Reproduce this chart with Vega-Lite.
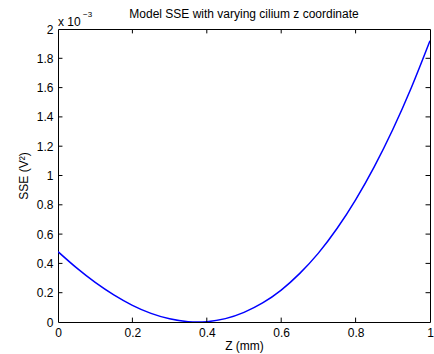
{
  "$schema": "https://vega.github.io/schema/vega-lite/v6.json",
  "width": 372,
  "height": 293,
  "autosize": {"type": "none"},
  "padding": {"left": 58, "top": 29, "right": 4, "bottom": 32},
  "background": "white",
  "config": {
    "view": {"stroke": "black", "strokeWidth": 1},
    "font": "Liberation Sans",
    "axis": {
      "domain": false,
      "labelColor": "black",
      "titleColor": "black",
      "labelFont": "Liberation Sans",
      "titleFont": "Liberation Sans",
      "labelFontSize": 12,
      "titleFontSize": 12,
      "titleFontWeight": "normal",
      "grid": false,
      "format": "~g",
      "labelFlush": false,
      "labelOverlap": false
    }
  },
  "title": {
    "text": "Model SSE with varying cilium z coordinate",
    "font": "Liberation Sans",
    "fontSize": 12,
    "fontWeight": "normal",
    "color": "black",
    "offset": 4,
    "dy": 14,
    "anchor": "middle",
    "frame": "group"
  },
  "resolve": {"axis": {"x": "independent", "y": "independent"}},
  "datasets": {
    "xt": [{"t": 0.2}, {"t": 0.4}, {"t": 0.6}, {"t": 0.8}],
    "yt": [{"t": 0.2}, {"t": 0.4}, {"t": 0.6}, {"t": 0.8}, {"t": 1.0}, {"t": 1.2}, {"t": 1.4}, {"t": 1.6}, {"t": 1.8}]
  },
  "data": {
    "values": [
      {"z": 0.0, "sse": 0.48},
      {"z": 0.05, "sse": 0.369},
      {"z": 0.1, "sse": 0.27},
      {"z": 0.15, "sse": 0.185},
      {"z": 0.2, "sse": 0.114},
      {"z": 0.25, "sse": 0.059},
      {"z": 0.3, "sse": 0.022},
      {"z": 0.35, "sse": 0.0025},
      {"z": 0.375, "sse": 0.0},
      {"z": 0.4, "sse": 0.0025},
      {"z": 0.45, "sse": 0.023},
      {"z": 0.5, "sse": 0.066},
      {"z": 0.55, "sse": 0.13},
      {"z": 0.6, "sse": 0.218},
      {"z": 0.65, "sse": 0.332},
      {"z": 0.7, "sse": 0.47},
      {"z": 0.75, "sse": 0.638},
      {"z": 0.8, "sse": 0.834},
      {"z": 0.85, "sse": 1.059},
      {"z": 0.9, "sse": 1.314},
      {"z": 0.95, "sse": 1.601},
      {"z": 1.0, "sse": 1.92}
    ]
  },
  "layer": [
    {
      "mark": {"type": "line", "color": "#0000ff", "strokeWidth": 1.5, "interpolate": "monotone", "clip": true},
      "encoding": {
        "x": {
          "field": "z", "type": "quantitative",
          "scale": {"domain": [0, 1], "nice": false, "zero": false},
          "axis": {"orient": "bottom", "values": [0, 0.2, 0.4, 0.6, 0.8, 1], "ticks": false, "labelPadding": 5, "title": "Z (mm)", "titlePadding": 2}
        },
        "y": {
          "field": "sse", "type": "quantitative",
          "scale": {"domain": [0, 2], "nice": false},
          "axis": {"orient": "left", "values": [0, 0.2, 0.4, 0.6, 0.8, 1, 1.2, 1.4, 1.6, 1.8, 2], "ticks": false, "labelPadding": 5, "title": "SSE (V²)", "titlePadding": 6}
        }
      }
    },
    {
      "data": {"name": "xt"},
      "mark": {"type": "rule", "color": "black", "strokeWidth": 1},
      "encoding": {
        "x": {"field": "t", "type": "quantitative", "axis": null},
        "y": {"datum": 0, "type": "quantitative", "axis": null},
        "y2": {"datum": 0.03}
      }
    },
    {
      "data": {"name": "xt"},
      "mark": {"type": "rule", "color": "black", "strokeWidth": 1},
      "encoding": {
        "x": {"field": "t", "type": "quantitative", "axis": null},
        "y": {"datum": 2, "type": "quantitative", "axis": null},
        "y2": {"datum": 1.97}
      }
    },
    {
      "data": {"name": "yt"},
      "mark": {"type": "rule", "color": "black", "strokeWidth": 1},
      "encoding": {
        "y": {"field": "t", "type": "quantitative", "axis": null},
        "x": {"datum": 0, "type": "quantitative", "axis": null},
        "x2": {"datum": 0.012}
      }
    },
    {
      "data": {"name": "yt"},
      "mark": {"type": "rule", "color": "black", "strokeWidth": 1},
      "encoding": {
        "y": {"field": "t", "type": "quantitative", "axis": null},
        "x": {"datum": 1, "type": "quantitative", "axis": null},
        "x2": {"datum": 0.988}
      }
    },
    {
      "data": {"values": [{"z": 0, "sse": 2, "label": "x 10"}]},
      "mark": {"type": "text", "align": "left", "baseline": "alphabetic", "dx": 0, "dy": -3, "fontSize": 12, "font": "Liberation Sans", "color": "black"},
      "encoding": {
        "x": {"field": "z", "type": "quantitative", "axis": null},
        "y": {"field": "sse", "type": "quantitative", "axis": null},
        "text": {"field": "label"}
      }
    },
    {
      "data": {"values": [{"z": 0, "sse": 2, "label": "−3"}]},
      "mark": {"type": "text", "align": "left", "baseline": "alphabetic", "dx": 25, "dy": -12, "fontSize": 8, "font": "Liberation Sans", "color": "black"},
      "encoding": {
        "x": {"field": "z", "type": "quantitative", "axis": null},
        "y": {"field": "sse", "type": "quantitative", "axis": null},
        "text": {"field": "label"}
      }
    }
  ]
}
